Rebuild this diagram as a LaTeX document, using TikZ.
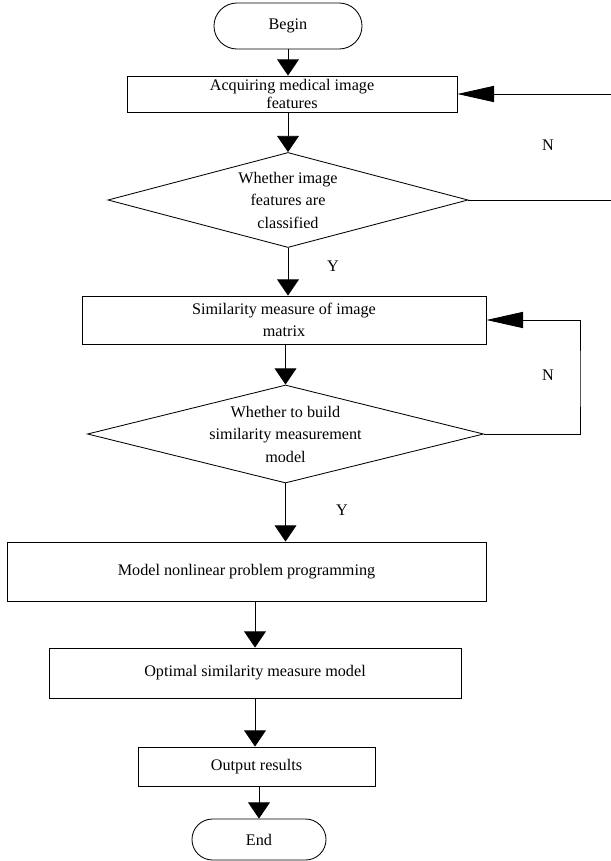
\documentclass[tikz,border=0pt]{standalone}
\usepackage{fontspec}
\setmainfont{Liberation Serif}
\usetikzlibrary{arrows.meta,positioning,shapes.geometric,shapes.misc}

\begin{document}
\begin{tikzpicture}[x=0.025cm,y=-0.025cm,line width=0.6pt,
   font=\fontsize{11.5}{16}\selectfont,
   term/.style={rounded rectangle,draw,inner sep=0pt},
   proc/.style={rectangle,draw,inner sep=0pt,align=center},
   dec/.style={diamond,draw,inner sep=0pt,align=center},
   darr/.style={-{Triangle[length=11.5pt,width=15.5pt]}},
   larr/.style={-{Triangle[length=26pt,width=11.5pt]}},
   lab/.style={inner sep=1pt}]
  \useasboundingbox (0,0) rectangle (611,861);
  \node[term,minimum width=3.7cm,minimum height=1.15cm] (begin) at (288,26) {Begin};
  \node[proc,minimum width=8.25cm,minimum height=0.9cm] (acq) at (292,94) {Acquiring medical image\\[-3pt]features};
  \node[dec,aspect=3.8,minimum width=9cm,minimum height=2.375cm] (d1) at (288,200) {Whether image\\features are\\classified};
  \node[proc,minimum width=10.1cm,minimum height=1.2cm] (sim) at (284,320) {Similarity measure of image\\matrix};
  \node[dec,aspect=4,minimum width=9.9cm,minimum height=2.45cm] (d2) at (285.5,434) {Whether to build\\similarity measurement\\model};
  \node[proc,minimum width=11.975cm,minimum height=1.475cm] (model) at (246.5,571.5) {Model nonlinear problem programming};
  \node[proc,minimum width=10.3cm,minimum height=1.25cm] (opt) at (255,673) {Optimal similarity measure model};
  \node[proc,minimum width=5.925cm,minimum height=0.975cm] (out) at (256.5,766.5) {Output results};
  \node[term,minimum width=3.35cm,minimum height=1.025cm] (end) at (259,839.5) {End};
  \coordinate (e1) at (611,200);
  \coordinate (e2) at (611,94);
  \coordinate (fb) at (580,380);
  \draw[darr] (begin.south) -- (begin.south |- acq.north);
  \draw[darr] (acq.south -| d1.north) -- (d1.north);
  \draw[darr] (d1.south) -- (d1.south |- sim.north);
  \draw[darr] (sim.south -| d2.north) -- (d2.north);
  \draw[darr] (d2.south) -- (d2.south |- model.north);
  \draw[darr] (opt.north |- model.south) -- (opt.north);
  \draw[darr] (opt.south) -- (opt.south |- out.north);
  \draw[darr] (end.north |- out.south) -- (end.north);
  \draw (d1.east) -- (e1);
  \draw[larr] (e2) -- (acq.east);
  \draw[larr] (d2.east) -| (fb) |- (sim.east);
  \node[lab] (n1) at (548,145) {N};
  \node[lab] (y1) at (333,266) {Y};
  \node[lab] (n2) at (548,375) {N};
  \node[lab] (y2) at (342,510) {Y};
\end{tikzpicture}
\end{document}
